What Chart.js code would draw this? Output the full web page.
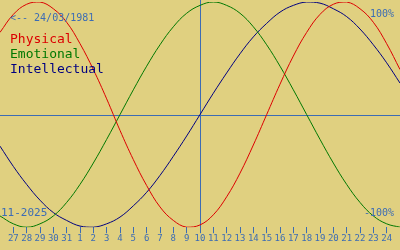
<!DOCTYPE html>
<html>
<head>
<meta charset="utf-8">
<script src="https://cdn.jsdelivr.net/npm/chart.js@4"></script>
<style>
  html, body { margin: 0; padding: 0; background: #e0d080; }
  #caja { width: 400px; height: 250px; }
</style>
</head>
<body>
<div id="caja"><canvas id="bio" width="400" height="250"></canvas></div>
<script>
// dias del 26/10 al 25/11 (los extremos sin etiqueta)
const dias = ['', '27', '28', '29', '30', '31', '1', '2', '3', '4', '5', '6', '7', '8', '9',
  '10', '11', '12', '13', '14', '15', '16', '17', '18', '19', '20', '21', '22', '23', '24', ''];

const fisico = [73, 89, 98, 100, 94, 82, 63, 40, 14, -14, -40, -63, -82, -94, -100, -98,
  -89, -73, -52, -27, 0, 27, 52, 73, 89, 98, 100, 94, 82, 63, 40];
const emocional = [-90, -97, -100, -97, -90, -78, -62, -43, -22, 0, 22, 43, 62, 78, 90, 97,
  100, 97, 90, 78, 62, 43, 22, 0, -22, -43, -62, -78, -90, -97, -100];
const intelectual = [-28, -46, -62, -76, -87, -94, -99, -100, -97, -91, -81, -69, -54, -37, -19, 0,
  19, 37, 54, 69, 81, 91, 97, 100, 99, 94, 87, 76, 62, 46, 28];

const hoy = '10';
const nacimiento = '24/03/1981';
const mes = '11-2025';

const azul = '#3c6cb4';
const mono = '"DejaVu Sans Mono", monospace';

// lineas de referencia y textos
const marcas = {
  id: 'marcas',
  beforeDatasetsDraw(chart) {
    const { ctx, chartArea: a, scales: { x, y } } = chart;
    const y0 = Math.round(y.getPixelForValue(0)) + 0.5;
    const xh = Math.round(x.getPixelForValue(dias.indexOf(hoy))) + 0.5;
    ctx.save();
    ctx.strokeStyle = azul;
    ctx.lineWidth = 1;
    ctx.beginPath();
    ctx.moveTo(a.left, y0);
    ctx.lineTo(a.right, y0);
    ctx.moveTo(xh, 0);
    ctx.lineTo(xh, a.bottom);
    ctx.stroke();
    ctx.restore();
  },
  afterDatasetsDraw(chart) {
    const ctx = chart.ctx;
    ctx.save();
    ctx.textBaseline = 'alphabetic';
    ctx.fillStyle = azul;
    ctx.font = '10px ' + mono;
    ctx.fillText('<-- ' + nacimiento, 10, 21);
    ctx.textAlign = 'right';
    ctx.fillText('100%', 394, 17);
    ctx.fillText('-100%', 394, 216);
    ctx.textAlign = 'left';
    ctx.font = '11px ' + mono;
    ctx.fillText(mes, 1, 216);
    ctx.font = '13px ' + mono;
    chart.data.datasets.forEach((ds, i) => {
      ctx.fillStyle = ds.borderColor;
      ctx.fillText(ds.label, 10, 43 + i * 15);
    });
    ctx.restore();
  }
};

new Chart(document.getElementById('bio'), {
  type: 'line',
  data: {
    labels: dias,
    datasets: [
      { label: 'Physical', data: fisico, borderColor: '#dc0000' },
      { label: 'Emotional', data: emocional, borderColor: '#007800' },
      { label: 'Intellectual', data: intelectual, borderColor: '#000080' }
    ]
  },
  options: {
    responsive: false,
    animation: false,
    devicePixelRatio: 1,
    layout: { padding: { top: 2, bottom: 6, left: 0, right: 0 } },
    elements: {
      line: { borderWidth: 1, tension: 0.4, fill: false },
      point: { radius: 0 }
    },
    plugins: { legend: { display: false }, tooltip: { enabled: false } },
    scales: {
      x: {
        offset: false,
        border: { display: false },
        grid: {
          drawOnChartArea: false,
          tickLength: 6,
          color: c => (c.tick && c.tick.label !== '' ? azul : 'transparent')
        },
        ticks: {
          color: azul,
          font: { family: mono, size: 9 },
          padding: 0,
          autoSkip: false,
          maxRotation: 0
        }
      },
      y: { display: false, min: -100, max: 100 }
    }
  },
  plugins: [marcas]
});
</script>
</body>
</html>
